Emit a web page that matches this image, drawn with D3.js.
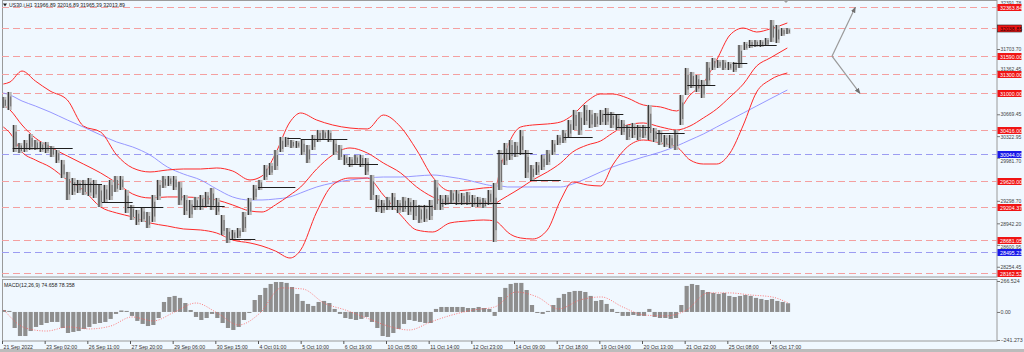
<!DOCTYPE html>
<html>
<head>
<meta charset="utf-8">
<script src="https://cdn.jsdelivr.net/npm/d3@7"></script>
<style>
  body { margin: 0; background: #f0f8ff; }
  text { font-family: "Liberation Sans", Arial, sans-serif; }
</style>
</head>
<body>
<div id="chart"></div>
<script>
// time axis labels, one every 32 H1 bars
var timeLabels = ['21 Sep 2022', '23 Sep 02:00', '26 Sep 11:00', '27 Sep 20:00', '29 Sep 06:00', '30 Sep 15:00',
    '4 Oct 01:00', '5 Oct 10:00', '6 Oct 19:00', '10 Oct 05:00', '11 Oct 14:00', '12 Oct 23:00', '14 Oct 09:00',
    '17 Oct 18:00', '19 Oct 04:00', '20 Oct 13:00', '21 Oct 22:00', '25 Oct 08:00', '26 Oct 17:00'];

// price, grouped by 4 H1 bars (high / low of each group)
var highs = [30944, 31023, 30500, 30215, 30262, 30357, 30262, 30231, 30231, 30167, 30104, 29946, 29756, 29660, 29629, 29629,
    29660, 29629, 29550, 29550, 29629, 29692, 29692, 29470, 29233, 29154, 29185, 29122, 29391, 29629, 29692, 29692,
    29692, 29597, 29391, 29312, 29360, 29391, 29439, 29502, 29344, 29074, 28868, 28837, 28868, 29122, 29344, 29550,
    29629, 29866, 29898, 30104, 30310, 30310, 30262, 30247, 30262, 30183, 30342, 30421, 30421, 30421, 30262, 30183,
    30025, 29993, 30025, 30025, 29977, 29708, 29391, 29312, 29360, 29423, 29312, 29360, 29344, 29312, 29233, 29233,
    29312, 29629, 29391, 29391, 29470, 29470, 29423, 29439, 29391, 29360, 29344, 29470, 29581, 30104, 30215, 30262,
    30231, 30421, 30104, 29866, 29914, 30025, 30104, 30262, 30342, 30421, 30579, 30738, 30706, 30817, 30738, 30690,
    30738, 30769, 30706, 30658, 30579, 30500, 30532, 30500, 30500, 30817, 30452, 30421, 30342, 30342, 30421, 30975,
    31403, 31340, 31292, 31213, 31498, 31561, 31530, 31530, 31498, 31498, 31767, 31815, 31846, 31846, 31846, 31878,
    32163, 32084, 32036, 32036];
var lows = [30769, 30738, 30072, 30056, 30072, 30104, 30104, 30072, 30056, 29993, 29898, 29660, 29312, 29391, 29423, 29391,
    29375, 29344, 29201, 29264, 29312, 29439, 29470, 29106, 28995, 28916, 28964, 28868, 28964, 29312, 29502, 29534,
    29470, 29233, 29074, 29027, 29154, 29154, 29201, 29154, 29074, 28758, 28631, 28678, 28710, 28805, 29074, 29312,
    29470, 29629, 29708, 29787, 30072, 30152, 30136, 30136, 30025, 29898, 30104, 30231, 30262, 30231, 30025, 29946,
    29866, 29835, 29866, 29835, 29708, 29312, 29122, 29106, 29154, 29154, 29106, 29122, 29074, 28995, 28948, 28964,
    28995, 29154, 29154, 29233, 29264, 29233, 29233, 29233, 29201, 29201, 29185, 29233, 28647, 29470, 29866, 29946,
    29993, 30025, 29660, 29629, 29708, 29787, 29866, 30025, 30183, 30215, 30310, 30421, 30342, 30500, 30452, 30468,
    30500, 30500, 30452, 30421, 30342, 30262, 30294, 30262, 30294, 30262, 30231, 30183, 30152, 30136, 30104, 30500,
    30975, 31086, 31023, 30928, 31134, 31371, 31403, 31371, 31371, 31340, 31403, 31688, 31720, 31736, 31736, 31751,
    31815, 31799, 31910, 31941];

// bollinger bands and blue moving average, read at these bar indices
var bandIdx = [1, 6, 15, 25, 36, 49, 61, 74, 86, 98, 111, 124, 136, 149, 161, 173, 186, 195, 205, 216, 224, 236, 248, 261,
    274, 286, 299, 311, 323, 336, 349, 361, 370, 374, 379, 389, 398, 409, 419, 428, 439, 449, 458, 469, 481, 494, 506,
    516, 526, 536, 546, 556, 566, 576, 589];
var bbUpper = [31149, 31181, 31355, 31197, 31039, 30896, 30484, 30389, 30025, 29819, 29756, 29787, 29803, 29803, 29819,
    29771, 29629, 29692, 30041, 30548, 30690, 30579, 30500, 30452, 30437, 30658, 30468, 30104, 29676, 29455, 29470,
    29502, 29518, 29835, 30152, 30468, 30500, 30516, 30548, 30658, 30880, 30991, 30991, 30928, 30817, 30785, 30722,
    30975, 31165, 31530, 31926, 32036, 31973, 32021, 32116];
var bbMiddle = [30817, 30738, 30500, 30294, 30152, 30009, 29882, 29740, 29581, 29407, 29344, 29360, 29360, 29344, 29312,
    29233, 29138, 29122, 29233, 29391, 29518, 29803, 30025, 30136, 30056, 29898, 29740, 29518, 29360, 29264, 29264,
    29264, 29264, 29312, 29375, 29502, 29629, 29756, 29898, 30072, 30183, 30247, 30373, 30500, 30532, 30468, 30421,
    30484, 30611, 30753, 30944, 31149, 31435, 31561, 31720];
var bbLower = [30468, 30373, 30072, 29946, 29835, 29629, 29470, 29201, 29106, 29043, 28948, 28900, 28853, 28837, 28789,
    28678, 28631, 28583, 28504, 28393, 28520, 29122, 29550, 29660, 29660, 29391, 29074, 28837, 28805, 28948, 28979,
    28995, 28979, 28916, 28805, 28710, 28694, 28837, 29312, 29597, 29550, 29534, 29866, 30152, 30262, 30215, 30152,
    29946, 29882, 29882, 30056, 30500, 31023, 31213, 31324];
var maBlue = [31007, 30975, 30880, 30801, 30706, 30579, 30468, 30342, 30231, 30152, 30025, 29835, 29724, 29629, 29486,
    29360, 29312, 29312, 29328, 29360, 29423, 29518, 29581, 29629, 29660, 29676, 29676, 29692, 29708, 29676, 29629,
    29565, 29534, 29534, 29518, 29518, 29518, 29518, 29518, 29565, 29660, 29756, 29835, 29914, 29993, 30072, 30167,
    30262, 30357, 30468, 30579, 30690, 30801, 30912, 31054];

// short black level segments: start bar, end bar, price
var segStart = [8, 53, 75, 94, 143, 171, 192, 214, 224, 259, 281, 329, 371, 396, 421, 451, 461, 491, 514, 548, 560];
var segEnd = [53, 75, 98, 121, 167, 190, 220, 224, 259, 282, 323, 374, 398, 419, 443, 466, 486, 512, 535, 559, 581];
var segPrice = [30136, 29565, 29280, 29201, 29217, 28694, 29518, 30294, 30278, 29882, 29217, 29264, 30056, 29629, 30310,
    30674, 30468, 30373, 31134, 31482, 31767];

// horizontal levels
var levels = [32363.84, 32038.85, 31590.00, 31300.00, 31000.00, 30416.00, 30044.00, 29620.00, 29204.37, 28681.05, 28495.23, 28162.52];
var levelKinds = ['red', 'bid', 'red', 'red', 'red', 'red', 'blue', 'red', 'red', 'red', 'blue', 'red'];
var priceTicks = [32391.78, 31703.70, 31362.45, 30669.45, 30322.95, 29981.70, 29298.70, 28942.20, 28600.95, 28254.45];

// projection arrows: start, up target, down target (bar, price)
var arrowFrom = [622.5, 31590.00];
var arrowUp = [640, 32363.84];
var arrowDown = [643.5, 31000.00];

// MACD histogram per 4-bar group, signal line every 4 groups
var macdHist = [17, 9, -138, -207, -207, -164, -129, -112, -95, -86, -86, -138, -181, -172, -164, -146, -129, -103, -95,
    -86, -60, -17, 13, 9, -34, -77, -103, -121, -112, -52, 86, 129, 138, 121, 77, 17, -43, -69, -52, -17, -52, -95, -138,
    -155, -129, -69, -9, 103, 146, 207, 241, 258, 258, 250, 215, 155, 95, 69, 52, 86, 95, 77, 26, -17, -52, -60, -69,
    -60, -43, -86, -138, -207, -215, -181, -146, -103, -69, -77, -86, -95, -95, 26, 43, 43, 43, 43, 43, 34, 34, 43, 34,
    26, -34, 129, 207, 241, 250, 250, 189, 60, -9, -17, 9, 60, 121, 155, 172, 181, 181, 172, 138, 95, 103, 69, 26, -9,
    -34, -34, -26, -34, -34, 26, -43, -52, -52, -60, -52, 60, 224, 241, 232, 189, 172, 164, 155, 164, 138, 129, 138, 146,
    138, 121, 112, 103, 112, 95, 86, 75];
var signalGroup = [0, 4, 8, 12, 16, 20, 24, 28, 32, 36, 40, 44, 48, 52, 56, 60, 64, 68, 72, 76, 80, 84, 88, 92, 96, 100,
    104, 108, 112, 116, 120, 124, 128, 132, 136, 140, 144, 147];
var signalVals = [17, -138, -164, -129, -146, -121, -43, -77, 0, 77, -9, -112, -9, 207, 198, 77, 17, -52, -121, -155, -86,
    -26, 17, 43, 172, 129, 26, 103, 129, 43, -26, -34, 17, 164, 164, 146, 129, 78];

var W = 1024, H = 352;
var svg = d3.select('#chart').append('svg')
    .attr('width', W).attr('height', H)
    .style('display', 'block')
    .style('background', '#f0f8ff');

var x = d3.scaleLinear().domain([0, 747]).range([2, 998]);
var y = d3.scaleLinear().domain([28092, 32480]).range([277, 0]);
var ym = d3.scaleLinear().domain([-241.273, 266.524]).range([340, 281]);
var gx = function(g) { return x(g * 4 + 1.5); };

var defs = svg.append('defs');
defs.append('clipPath').attr('id', 'mainclip').append('rect')
    .attr('x', 2).attr('y', 0).attr('width', 995).attr('height', 277);
defs.append('clipPath').attr('id', 'macdclip').append('rect')
    .attr('x', 2).attr('y', 279).attr('width', 995).attr('height', 62);
defs.append('marker').attr('id', 'ah').attr('viewBox', '0 0 10 10')
    .attr('refX', 9).attr('refY', 5).attr('markerWidth', 5).attr('markerHeight', 5)
    .attr('orient', 'auto')
    .append('path').attr('d', 'M0,1L10,5L0,9Z').attr('fill', '#707070');

// panel frames
svg.append('rect').attr('x', 2.5).attr('y', 0.5).attr('width', 994.5).attr('height', 276.5)
    .attr('fill', '#f0f8ff').attr('stroke', '#9a9a9a');
svg.append('rect').attr('x', 2.5).attr('y', 279.5).attr('width', 994.5).attr('height', 61.5)
    .attr('fill', '#f0f8ff').attr('stroke', '#9a9a9a');
svg.append('rect').attr('x', 0).attr('y', 349).attr('width', W).attr('height', 3).attr('fill', '#bcbcbc');

var main = svg.append('g').attr('clip-path', 'url(#mainclip)');

// horizontal levels
main.selectAll('line.level')
    .data(levels)
    .enter()
    .append('line')
    .attr('class', 'level')
    .attr('x1', 2).attr('x2', 997)
    .attr('y1', function(d) { return Math.round(y(d)) + 0.5; })
    .attr('y2', function(d) { return Math.round(y(d)) + 0.5; })
    .attr('stroke', function(d, i) { return levelKinds[i] === 'blue' ? '#9c9cf2' : '#f4a0a0'; })
    .attr('stroke-width', 1)
    .attr('stroke-dasharray', '7,4');

// bands
var bandLine = function(vals) {
    return d3.line()
        .x(function(d, i) { return x(bandIdx[i]); })
        .y(function(d) { return y(d); })
        .curve(d3.curveMonotoneX)(vals);
};
main.append('path').attr('d', bandLine(maBlue)).attr('fill', 'none').attr('stroke', '#8c8cff').attr('stroke-width', 0.9);
[bbUpper, bbMiddle, bbLower].forEach(function(vals) {
    main.append('path').attr('d', bandLine(vals)).attr('fill', 'none').attr('stroke', '#ff2a2a').attr('stroke-width', 1);
});

// price bars: light ribbon plus a dark high-low stroke
main.selectAll('rect.bar')
    .data(highs)
    .enter()
    .append('rect')
    .attr('class', 'bar')
    .attr('x', function(d, i) { return gx(i) - 2.4; })
    .attr('width', 4.8)
    .attr('y', function(d) { return y(d); })
    .attr('height', function(d, i) { return Math.max(1, y(lows[i]) - y(d)); })
    .attr('fill', '#b9b9b9');
main.selectAll('line.hl')
    .data(highs)
    .enter()
    .append('line')
    .attr('class', 'hl')
    .attr('x1', function(d, i) { return gx(i) - 1; })
    .attr('x2', function(d, i) { return gx(i) - 1; })
    .attr('y1', function(d) { return y(d); })
    .attr('y2', function(d, i) { return y(lows[i]); })
    .attr('stroke', '#262626')
    .attr('stroke-width', 1);
main.selectAll('line.hl2')
    .data(highs)
    .enter()
    .append('line')
    .attr('class', 'hl2')
    .attr('x1', function(d, i) { return gx(i) + 1.4; })
    .attr('x2', function(d, i) { return gx(i) + 1.4; })
    .attr('y1', function(d, i) { return y(d) + (y(lows[i]) - y(d)) * 0.25; })
    .attr('y2', function(d, i) { return y(lows[i]) - (y(lows[i]) - y(d)) * 0.2; })
    .attr('stroke', '#555')
    .attr('stroke-width', 0.8);

// black level segments
main.selectAll('line.seg')
    .data(segPrice)
    .enter()
    .append('line')
    .attr('class', 'seg')
    .attr('x1', function(d, i) { return x(segStart[i]); })
    .attr('x2', function(d, i) { return x(segEnd[i]); })
    .attr('y1', function(d) { return Math.round(y(d)) + 0.5; })
    .attr('y2', function(d) { return Math.round(y(d)) + 0.5; })
    .attr('stroke', '#1e1e1e')
    .attr('stroke-width', 1);

// projection arrows
[arrowUp, arrowDown].forEach(function(t) {
    main.append('line')
        .attr('x1', x(arrowFrom[0])).attr('y1', y(arrowFrom[1]))
        .attr('x2', x(t[0])).attr('y2', y(t[1]))
        .attr('stroke', '#9a9a9a').attr('stroke-width', 1.2)
        .attr('marker-end', 'url(#ah)');
});

// shift marker at top
svg.append('path')
    .attr('d', 'M' + (x(588) - 3) + ',0L' + (x(588) + 3) + ',0L' + x(588) + ',3Z')
    .attr('fill', '#a0a0a0');

// title
svg.append('path').attr('d', 'M3,3.5L7,3.5L5,6.5Z').attr('fill', '#222');
svg.append('text').attr('x', 9).attr('y', 7).attr('font-size', 5.2).attr('fill', '#222')
    .text('US30.i,H1  31966.89 32016.89 31965.39 32013.89');

// price axis; tick texts next to a level label are pushed clear of its box
var boxTop = function(l) { return Math.round(y(l)) - 3; };
var tickCenter = function(d) {
    var c = y(d), h = 2.6;
    levels.forEach(function(l) {
        var t = boxTop(l), b = t + 7;
        if (c + h > t && c - h < b) {
            c = (t + b) / 2 < c ? b + h : t - h;
        }
    });
    return Math.max(3, c);
};
var yAxis = svg.append('g').attr('transform', 'translate(997,0)')
    .call(d3.axisRight(y).tickValues(priceTicks).tickSize(3).tickFormat(d3.format('.2f')));
yAxis.select('.domain').remove();
yAxis.selectAll('line').attr('stroke', '#777');
yAxis.selectAll('text').attr('font-size', 5).attr('fill', '#444').attr('x', 3.5)
    .attr('dy', function(d) { return (1.7 + tickCenter(d) - y(d)) + 'px'; })
    .style('font-family', '"Liberation Sans", Arial, sans-serif');

// level labels on the axis
var lab = svg.selectAll('g.lab')
    .data(levels)
    .enter()
    .append('g')
    .attr('class', 'lab')
    .attr('transform', function(d) { return 'translate(997.5,' + boxTop(d) + ')'; });
lab.append('rect')
    .attr('width', 24).attr('height', 7)
    .attr('fill', function(d, i) { return levelKinds[i] === 'blue' ? '#1818e8' : '#f01414'; })
    .attr('stroke', function(d, i) { return levelKinds[i] === 'bid' ? '#202020' : 'none'; })
    .attr('stroke-width', 0.6);
lab.append('text')
    .attr('x', 2.5).attr('y', 5.5)
    .attr('font-size', 5.3)
    .attr('fill', function(d, i) { return levelKinds[i] === 'bid' ? '#2a0000' : '#fff'; })
    .text(function(d) { return d3.format('.2f')(d); });

// MACD panel
var macd = svg.append('g').attr('clip-path', 'url(#macdclip)');
macd.selectAll('rect.h')
    .data(macdHist)
    .enter()
    .append('rect')
    .attr('class', 'h')
    .attr('x', function(d, i) { return gx(i) - 2.1; })
    .attr('width', 4.2)
    .attr('y', function(d) { return Math.min(ym(d), ym(0)); })
    .attr('height', function(d) { return Math.abs(ym(d) - ym(0)); })
    .attr('fill', '#8e8e8e');
macd.append('path')
    .attr('d', d3.line()
        .x(function(d, i) { return gx(signalGroup[i]); })
        .y(function(d) { return ym(d); })
        .curve(d3.curveMonotoneX)(signalVals))
    .attr('fill', 'none')
    .attr('stroke', '#ff5a5a')
    .attr('stroke-width', 0.8)
    .attr('stroke-dasharray', '1,1.5');
svg.append('text').attr('x', 4).attr('y', 286.5).attr('font-size', 5.2).attr('fill', '#222')
    .text('MACD(12,26,9) 74.658 78.358');

var mAxis = svg.append('g').attr('transform', 'translate(997,0)')
    .call(d3.axisRight(ym).tickValues([266.524, 0, -241.273]).tickSize(3)
        .tickFormat(function(d) { return d === 0 ? '0.00' : d3.format('.3f')(d); }));
mAxis.select('.domain').remove();
mAxis.selectAll('line').attr('stroke', '#777');
mAxis.selectAll('text').attr('font-size', 5.3).attr('fill', '#444').attr('x', 3.5)
    .style('font-family', '"Liberation Sans", Arial, sans-serif');

// time axis
var tIdx = timeLabels.map(function(d, i) { return i * 32; });
var xAxis = svg.append('g').attr('transform', 'translate(0,341)')
    .call(d3.axisBottom(x).tickValues(tIdx).tickSize(3)
        .tickFormat(function(d, i) { return timeLabels[i]; }));
xAxis.select('.domain').remove();
xAxis.selectAll('line').attr('stroke', '#555');
xAxis.selectAll('text').attr('font-size', 5.2).attr('fill', '#333')
    .attr('text-anchor', 'start').attr('x', 1).attr('y', 4)
    .style('font-family', '"Liberation Sans", Arial, sans-serif');
</script>
</body>
</html>
